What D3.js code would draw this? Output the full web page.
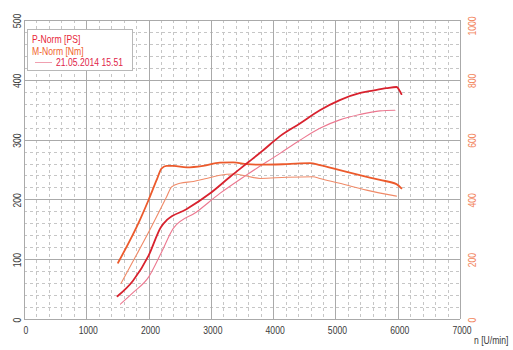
<!DOCTYPE html>
<html>
<head>
<meta charset="utf-8">
<script src="https://cdn.jsdelivr.net/npm/d3@7"></script>
<style>
  html, body { margin: 0; padding: 0; background: #fff; }
  svg { display: block; }
  text { font-family: "Liberation Sans", Arial, sans-serif; }
</style>
</head>
<body>
<svg id="chart" width="513" height="350"></svg>
<script>
// Engine speed ticks and axis tick labels
const rpmTicks = [0, 1000, 2000, 3000, 4000, 5000, 6000, 7000];
const psTicks = [0, 100, 200, 300, 400, 500];
const nmTicks = [0, 200, 400, 600, 800, 1000];

// Power curve, current run [rpm, PS]
const powerRpm = [1500, 1750, 2000, 2200, 2300, 2600, 3000, 3300, 3600, 3850, 4100, 4430, 4750, 5070, 5400, 5600, 5820, 5980, 6040, 6060];
const powerPS  = [38, 64, 106, 154, 166, 183, 211, 237, 262, 283, 305, 327, 349, 366, 378, 382, 386, 388, 380, 376];

// Power curve, reference run [rpm, PS]
const powerRefRpm = [1550, 1750, 2000, 2200, 2400, 2770, 3145, 3575, 4110, 4430, 4750, 5070, 5390, 5715, 5955];
const powerRefPS  = [25, 44, 70, 110, 152, 179, 210, 241, 277, 299, 319, 333, 342, 348, 349];

// Torque curve, current run [rpm, Nm]
const torqueRpm = [1510, 1860, 2000, 2130, 2210, 2290, 2400, 2610, 2875, 3145, 3360, 3575, 3790, 4215, 4590, 4750, 5070, 5390, 5715, 5980, 6060];
const torqueNm  = [188, 331, 398, 465, 504, 512, 512, 507, 512, 523, 524, 518, 516, 518, 521, 515, 498, 481, 465, 451, 437];

// Torque curve, reference run [rpm, Nm]
const torqueRefRpm = [1560, 1800, 2000, 2290, 2370, 2505, 2720, 2930, 3145, 3360, 3575, 3790, 4215, 4640, 4750, 5070, 5500, 5980];
const torqueRefNm  = [120, 212, 290, 409, 442, 454, 460, 470, 481, 485, 478, 470, 474, 476, 470, 454, 431, 411];

const legendLabels = ["P-Norm [PS]", "M-Norm [Nm]", "21.05.2014 15.51"];
const xAxisTitle = "n [U/min]";

const svg = d3.select("#chart");
const plotLeft = 24, plotRight = 460, plotTop = 20, plotBottom = 319;

const x = d3.scaleLinear().domain([0, 7000]).range([plotLeft, plotRight]);
const yPS = d3.scaleLinear().domain([0, 500]).range([plotBottom, plotTop]);
const yNm = d3.scaleLinear().domain([0, 1000]).range([plotBottom, plotTop]);

const grid = svg.append("g");

// minor grid: every 200 rpm and every 20 PS
grid.selectAll("line.vminor")
  .data(d3.range(200, 7000, 200).filter(v => v % 1000 !== 0))
  .join("line")
  .attr("x1", d => Math.round(x(d)) + 0.5).attr("x2", d => Math.round(x(d)) + 0.5)
  .attr("y1", plotTop).attr("y2", plotBottom)
  .attr("stroke", "#c6c6c6").attr("stroke-width", 1).attr("stroke-dasharray", "3,3");

grid.selectAll("line.hminor")
  .data(d3.range(20, 500, 20).filter(v => v % 100 !== 0))
  .join("line")
  .attr("x1", plotLeft).attr("x2", plotRight)
  .attr("y1", d => Math.round(yPS(d)) + 0.5).attr("y2", d => Math.round(yPS(d)) + 0.5)
  .attr("stroke", "#c6c6c6").attr("stroke-width", 1).attr("stroke-dasharray", "3,3");

// major grid
grid.selectAll("line.vmajor")
  .data(rpmTicks)
  .join("line")
  .attr("x1", d => Math.round(x(d)) + 0.5).attr("x2", d => Math.round(x(d)) + 0.5)
  .attr("y1", plotTop).attr("y2", plotBottom)
  .attr("stroke", "#aaaaaa").attr("stroke-width", 1);

grid.selectAll("line.hmajor")
  .data(psTicks)
  .join("line")
  .attr("x1", plotLeft).attr("x2", plotRight)
  .attr("y1", d => Math.round(yPS(d)) + 0.5).attr("y2", d => Math.round(yPS(d)) + 0.5)
  .attr("stroke", "#aaaaaa").attr("stroke-width", 1);

// narrow-looking text: horizontal squeeze along the reading direction
const squeeze = 0.82;
const labelSize = 10.5;

svg.append("g").selectAll("text")
  .data(rpmTicks)
  .join("text")
  .attr("transform", d => `translate(${x(d) + 2},334) scale(${squeeze},1)`)
  .attr("text-anchor", "middle")
  .attr("font-size", labelSize).attr("fill", "#3a3a3a")
  .text(d => d);

svg.append("text")
  .attr("transform", `translate(474,344) scale(${squeeze},1)`)
  .attr("font-size", labelSize).attr("fill", "#3a3a3a")
  .text(xAxisTitle);

svg.append("g").selectAll("text")
  .data(psTicks)
  .join("text")
  .attr("transform", d => `translate(20.5,${Math.min(yPS(d) + 1, 320)}) rotate(-90) scale(${squeeze},1)`)
  .attr("text-anchor", "middle")
  .attr("font-size", labelSize).attr("fill", "#3a3a3a")
  .text(d => d);

svg.append("g").selectAll("text")
  .data(nmTicks)
  .join("text")
  .attr("transform", d => `translate(475.5,${Math.max(yNm(d) + 1, 26)}) rotate(-90) scale(${squeeze},1)`)
  .attr("text-anchor", "middle")
  .attr("font-size", labelSize).attr("fill", "#f2845c")
  .text(d => d);

// curves
const zip = (a, b) => a.map((v, i) => [v, b[i]]);
const psLine = d3.line().x(d => x(d[0])).y(d => yPS(d[1])).curve(d3.curveMonotoneX);
const nmLine = d3.line().x(d => x(d[0])).y(d => yNm(d[1])).curve(d3.curveMonotoneX);

const curves = svg.append("g").attr("fill", "none").attr("stroke-linejoin", "round").attr("stroke-linecap", "round");
curves.append("path").attr("d", nmLine(zip(torqueRefRpm, torqueRefNm)))
  .attr("stroke", "#f08a68").attr("stroke-width", 1.1);
curves.append("path").attr("d", psLine(zip(powerRefRpm, powerRefPS)))
  .attr("stroke", "#ec7890").attr("stroke-width", 1.1);
curves.append("path").attr("d", nmLine(zip(torqueRpm, torqueNm)))
  .attr("stroke", "#ec5a2c").attr("stroke-width", 1.8);
curves.append("path").attr("d", psLine(zip(powerRpm, powerPS)))
  .attr("stroke", "#d8222e").attr("stroke-width", 1.8);

// legend
const lg = svg.append("g");
lg.append("rect").attr("x", 27.5).attr("y", 29.5).attr("width", 105).attr("height", 41)
  .attr("fill", "#fff").attr("stroke", "#b8b8b8");
lg.append("text").attr("transform", `translate(32,43) scale(${squeeze},1)`).attr("font-size", labelSize)
  .attr("fill", "#e8283a").text(legendLabels[0]);
lg.append("text").attr("transform", `translate(32,55) scale(${squeeze},1)`).attr("font-size", labelSize)
  .attr("fill", "#f0642e").text(legendLabels[1]);
lg.append("line").attr("x1", 35).attr("x2", 52).attr("y1", 62.5).attr("y2", 62.5)
  .attr("stroke", "#f0a0b0").attr("stroke-width", 1);
lg.append("text").attr("transform", `translate(56,66) scale(${squeeze},1)`).attr("font-size", labelSize)
  .attr("fill", "#e02448").text(legendLabels[2]);
</script>
</body>
</html>
